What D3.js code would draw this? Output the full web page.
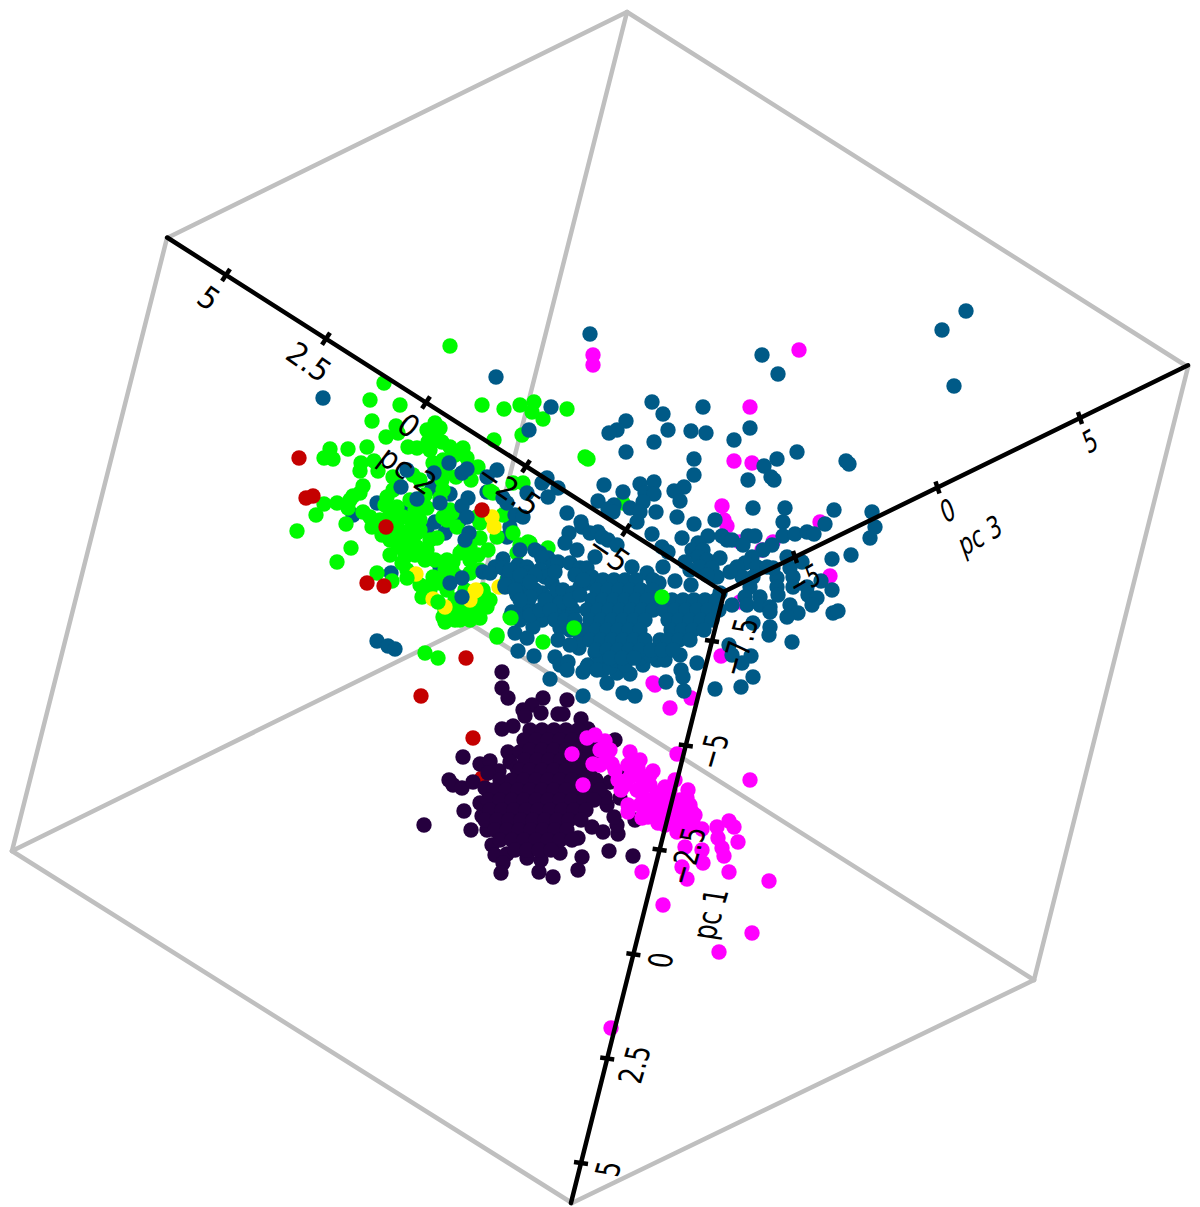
<!DOCTYPE html>
<html>
<head>
<meta charset="utf-8">
<script src="https://cdn.jsdelivr.net/npm/d3@7"></script>
<style>
	html, body { margin: 0; padding: 0; background: #fff; }
	svg { display: block; }
	text { font-family: "DejaVu Sans", sans-serif; fill: #000; }
</style>
</head>
<body>
<script>
var yellow = [[49.2,51.7],[49.4,52.7],[41.6,57.4],[47.6,59.0],[49.9,58.7],[43.3,59.9],[44.5,60.7],[47.0,60.0],[47.5,59.1]];

var tealBack = [[35.3,51.5],[39.1,57.3],[40.8,51.5],[40.3,51.0],[43.5,52.2],[42.7,52.8],[43.2,48.8],[45.0,49.4],[37.7,50.3],[48.7,49.2],[44.0,56.7],[51.0,52.7],[50.7,53.7],[46.0,52.0],[44.5,53.3]];

var green = [[45.0,34.6],[38.4,38.3],[37.0,40.0],[40.0,40.5],[48.2,40.5],[50.4,40.9],[52.0,40.5],[53.4,40.2],[53.2,41.2],[54.3,41.9],[56.7,40.9],[37.2,42.1],[52.2,43.5],[49.4,44.0],[39.6,42.6],[39.8,43.3],[38.6,43.7],[43.5,42.3],[44.0,42.8],[42.7,43.0],[43.8,44.0],[43.0,43.8],[41.7,44.8],[40.8,44.7],[45.0,44.7],[44.2,44.2],[42.8,44.2],[46.3,44.8],[46.7,45.8],[36.7,44.7],[34.8,44.9],[33.0,44.9],[32.4,45.8],[33.3,45.9],[36.1,46.3],[36.0,47.1],[37.4,46.1],[37.8,47.1],[43.3,46.3],[44.3,46.0],[47.8,46.7],[45.6,47.7],[47.1,48.0],[41.3,47.5],[42.0,48.0],[44.2,48.0],[44.3,49.0],[39.3,47.7],[39.8,48.5],[49.0,49.1],[49.3,49.3],[51.3,48.3],[52.3,48.3],[36.3,48.6],[35.3,49.6],[36.0,49.3],[33.7,50.3],[32.4,50.4],[31.6,51.5],[34.8,50.8],[34.6,52.4],[29.7,53.1],[35.1,54.8],[33.7,56.2],[37.7,57.3],[39.2,58.1],[36.3,51.2],[37.0,51.7],[37.2,52.7],[38.0,52.0],[38.2,53.5],[39.0,54.0],[38.7,49.7],[39.3,49.0],[38.5,50.5],[39.7,50.7],[40.3,51.7],[39.7,52.3],[40.3,53.3],[39.8,54.7],[41.0,54.3],[40.5,55.7],[41.3,52.3],[41.7,53.3],[40.2,56.3],[40.7,57.0],[42.7,50.8],[42.0,52.0],[43.0,54.0],[42.7,55.0],[41.7,54.7],[44.3,51.7],[45.2,51.3],[44.7,52.0],[45.7,52.7],[43.7,53.8],[44.0,49.8],[45.0,51.0],[47.7,51.7],[48.0,52.3],[48.0,53.8],[48.8,55.0],[47.8,55.5],[47.0,54.7],[46.0,55.3],[45.3,56.2],[44.7,56.0],[45.2,57.0],[46.3,55.0],[43.3,57.7],[42.7,58.7],[44.0,58.3],[44.7,59.0],[42.2,59.7],[47.0,57.3],[48.3,59.0],[47.3,60.7],[48.7,60.7],[45.7,61.0],[46.7,60.7],[47.7,59.7],[51.3,53.3],[50.3,51.5],[49.7,53.7],[53.0,54.3],[54.8,54.8],[51.7,55.3],[50.7,58.0],[44.3,61.7],[51.0,61.7],[42.5,65.3],[43.8,65.8],[44.5,62.2],[45.5,62.0],[47.0,61.0],[48.0,61.8],[49.7,63.5],[48.4,59.5],[52.0,54.5],[52.8,54.2],[58.5,45.7],[58.8,45.9],[62.3,50.3],
[39.0,51.5],[39.5,53.0],[39.0,55.5],[41.0,53.0],[41.5,55.5],[40.5,55.0],[40.0,54.0],[42.0,53.0],[42.5,56.0],[43.5,56.0],[44.5,57.0],[45.5,57.5],[47.0,56.0],[48.0,57.0],[46.5,59.0],[45.5,60.0],[46.0,62.0],[47.0,62.0],[44.5,61.0],[48.0,60.5],[49.0,60.0],[43.0,59.0],[42.0,58.5],[35.0,50.0],[41.0,50.0],[41.5,51.0],[42.5,49.5],[44.5,47.0],[43.0,45.0],[45.5,45.5]];

var red = [[29.9,45.8],[30.6,49.8],[31.3,49.6],[38.6,52.7],[36.7,58.3],[38.4,58.6],[48.2,51.0],[42.1,69.6],[46.6,65.8],[47.3,73.8],[48.2,77.8]];

var purple = [[50.2,67.2],[50.2,68.8],[50.8,69.8],[54.3,69.8],[53.2,70.5],[52.3,71.0],[52.5,71.6],[54.1,71.3],[56.7,70.0],[55.8,71.4],[56.3,71.4],[58.1,71.9],[58.8,72.9],[51.3,72.6],[50.2,72.9],[46.3,75.7],[48.0,76.4],[49.0,76.1],[49.9,77.1],[48.8,77.3],[50.8,75.2],[52.0,75.2],[51.0,76.2],[51.7,76.8],[44.9,78.0],[45.3,78.5],[46.2,78.8],[47.3,78.2],[48.5,78.8],[46.4,81.1],[48.2,81.6],[48.0,80.3],[47.1,83.0],[42.4,82.5],[48.7,83.0],[49.2,84.5],[49.5,85.5],[50.7,85.4],[50.3,86.3],[50.1,87.3],[52.7,85.8],[54.1,86.0],[53.9,87.2],[55.3,87.7],[56.0,85.3],[58.2,85.7],[57.8,87.0],[60.9,85.1],[63.3,85.6],[61.8,83.4],[60.3,83.2],[61.7,82.5],[61.4,81.7],[60.7,80.5],[60.5,79.7],[61.5,74.0],[62.0,77.3],[61.0,78.2],[62.0,79.8],[63.5,82.0],[59.2,82.7],[57.8,83.8],
[53.0,73.0],[54.2,73.0],[55.4,73.0],[56.6,73.0],[57.8,73.0],
[52.4,74.0],[53.6,74.0],[54.8,74.0],[56.0,74.0],[57.2,74.0],[58.4,74.0],[59.6,74.0],
[53.0,75.0],[54.2,75.0],[55.4,75.0],[56.6,75.0],[57.8,75.0],[59.0,75.0],
[52.5,76.0],[53.7,76.0],[54.9,76.0],[56.1,76.0],[57.3,76.0],[58.5,76.0],[59.7,76.0],
[52.0,77.0],[53.0,77.0],[54.2,77.0],[55.4,77.0],[56.6,77.0],[57.8,77.0],[59.0,77.0],
[50.0,78.0],[51.2,78.0],[52.4,78.0],[53.6,78.0],[54.8,78.0],[56.0,78.0],[57.2,78.0],[58.4,78.0],[59.6,78.0],
[49.4,79.0],[50.6,79.0],[51.8,79.0],[53.0,79.0],[54.2,79.0],[55.4,79.0],[56.6,79.0],[57.8,79.0],[59.0,79.0],[60.0,79.0],
[48.8,80.0],[50.0,80.0],[51.2,80.0],[52.4,80.0],[53.6,80.0],[54.8,80.0],[56.0,80.0],[57.2,80.0],[58.4,80.0],[59.4,80.0],
[49.0,81.0],[50.2,81.0],[51.4,81.0],[52.6,81.0],[53.8,81.0],[55.0,81.0],[56.2,81.0],[57.4,81.0],[58.6,81.0],
[48.5,82.0],[49.7,82.0],[50.9,82.0],[52.1,82.0],[53.3,82.0],[54.5,82.0],[55.7,82.0],[56.9,82.0],[58.1,82.0],
[49.5,83.0],[50.7,83.0],[51.9,83.0],[53.1,83.0],[54.3,83.0],[55.5,83.0],[56.7,83.0],
[50.0,84.0],[51.2,84.0],[52.4,84.0],[53.6,84.0],[54.8,84.0],[56.0,84.0],[57.2,84.0],
[51.5,85.0],[52.7,85.0],[53.9,85.0],[55.1,85.0]];

var magenta = [[58.7,73.8],[59.5,73.5],[60.5,74.1],[59.3,76.4],[60.0,76.5],[60.7,75.7],[61.2,76.4],[57.2,75.4],[58.3,78.5],[63.0,75.2],[65.3,77.1],[63.7,76.8],[62.8,76.5],[61.8,78.0],[62.1,79.0],[63.0,77.7],[64.3,78.2],[62.8,80.5],[62.8,81.2],[64.2,81.8],[63.7,79.0],[64.3,79.7],[65.7,79.3],[66.7,80.0],[65.2,80.7],[65.8,82.3],[66.3,81.3],[64.2,87.2],[67.7,75.4],[75.0,78.0],[63.8,76.8],[64.5,78.0],[66.5,78.7],[68.8,79.0],[68.7,79.8],[64.8,81.7],[67.0,80.7],[66.7,79.5],[65.3,80.8],[69.2,81.2],[68.3,82.0],[69.3,82.3],[70.2,82.9],[67.7,83.2],[68.5,84.7],[70.2,85.0],[70.3,86.3],[68.2,86.7],[68.7,87.9],[71.7,82.7],[72.9,82.1],[73.4,82.7],[73.8,84.2],[71.8,83.8],[72.2,84.8],[72.4,85.6],[72.9,87.2],[76.9,88.1],[66.3,90.5],[75.2,93.3],[71.9,95.2],[61.1,102.8],[59.3,35.5],[59.3,36.5],[79.9,35.0],[75.0,40.7],[73.4,46.1],[75.2,46.3],[72.2,50.6],[72.4,52.0],[72.7,52.6],[74.0,54.2],[77.3,54.2],[76.2,55.0],[82.0,52.2],[83.0,57.6],[74.0,60.2],[65.5,68.5],[65.3,68.3],[69.1,69.8],[67.0,70.8],[72.1,65.6],
[65.0,78.5],[66.0,80.0],[67.0,79.0],[67.5,78.0],[68.0,80.0],[66.0,81.5],[67.0,81.5],[68.0,81.0],[69.0,80.5],[65.0,80.0],[64.0,80.5],[63.5,77.5],[65.0,77.5],[66.5,82.5],[67.5,82.5],[68.5,83.0],[69.5,81.5],[61.0,75.0],[60.0,75.0],[61.5,77.0],[62.5,78.5],[64.0,76.0]];

var teal = [[96.6,31.1],[94.2,33.0],[95.4,38.6],[59.0,33.4],[76.2,35.5],[77.8,37.4],[49.6,37.7],[32.3,39.8],[65.2,40.2],[66.3,41.4],[70.3,40.7],[62.6,42.1],[61.7,43.0],[60.9,43.3],[66.8,43.0],[69.1,43.1],[70.6,43.3],[75.0,42.8],[73.4,44.0],[65.4,44.2],[62.6,45.2],[69.4,45.9],[69.4,47.5],[77.7,45.9],[79.7,45.2],[76.4,46.6],[77.1,47.7],[77.4,48.0],[74.8,48.0],[84.6,46.1],[84.9,46.4],[60.4,48.5],[64.0,48.4],[65.4,48.2],[68.4,48.7],[67.4,49.1],[62.3,49.2],[64.5,49.3],[65.4,49.4],[64.3,50.2],[68.0,50.1],[59.8,50.1],[61.4,50.5],[60.8,50.9],[61.3,51.2],[63.0,50.8],[64.0,51.2],[65.6,51.2],[56.7,51.3],[67.7,51.7],[63.7,52.2],[69.4,52.4],[71.5,52.0],[75.3,50.8],[78.5,50.8],[83.4,51.0],[87.2,51.2],[78.3,52.2],[82.5,52.4],[87.5,52.7],[87.0,53.8],[58.1,52.2],[58.2,52.7],[56.9,53.3],[56.5,54.3],[59.0,53.3],[59.8,53.2],[60.2,53.7],[60.8,54.0],[61.7,54.5],[65.2,53.4],[68.2,53.8],[70.8,53.6],[72.2,53.6],[72.7,54.0],[73.2,54.0],[74.8,53.6],[75.5,53.6],[74.3,54.5],[78.3,53.6],[79.5,53.4],[80.7,53.2],[81.4,53.4],[77.2,54.5],[76.3,55.0],[85.1,55.5],[83.2,55.9],[78.7,55.7],[80.2,56.2],[79.0,56.8],[79.3,57.7],[79.3,58.7],[77.7,57.8],[77.7,58.7],[82.1,58.1],[83.2,59.0],[80.7,58.7],[80.8,59.5],[81.7,59.8],[81.2,60.5],[57.7,55.0],[59.5,55.7],[63.2,56.7],[64.7,57.3],[65.3,58.0],[65.9,58.3],[66.3,56.7],[67.5,58.1],[69.1,58.5],[66.2,54.7],[66.8,55.2],[69.8,54.3],[69.2,55.0],[70.3,55.0],[69.8,55.7],[68.5,56.2],[70.7,56.0],[72.0,55.8],[69.0,57.0],[70.0,56.7],[71.2,56.8],[71.7,57.7],[70.7,57.5],[75.2,55.7],[74.5,56.3],[73.7,56.7],[75.7,56.7],[76.7,56.7],[74.2,57.7],[75.3,57.7],[73.0,57.2],[75.0,58.7],[77.3,56.8],[72.0,59.3],[73.2,60.5],[74.5,59.7],[76.0,59.7],[74.7,60.5],[76.0,60.5],[77.0,60.7],[77.0,61.2],[77.8,59.5],[79.0,60.5],[79.8,61.3],[78.7,61.7],[83.3,61.3],[83.8,61.1],[75.3,62.3],[77.0,62.7],[76.9,63.5],[79.2,64.2],[72.9,64.5],[75.1,65.6],[74.2,66.3],[75.3,67.7],[74.1,68.7],[71.5,68.9],
[44.9,46.3],[46.2,47.3],[46.7,46.9],[43.4,47.3],[40.7,47.0],[40.1,48.7],[46.8,49.8],[41.7,49.9],[44.0,50.3],[46.2,50.6],[46.7,51.7],[46.9,53.3],[46.5,54.0],[49.7,47.0],[48.7,47.7],[50.3,49.8],[50.7,50.3],[52.7,49.3],[54.2,48.3],[54.7,47.8],[55.8,48.8],[54.8,49.7],[51.5,51.5],[52.3,51.7],[46.2,57.8],[46.2,59.7],[45.0,58.3],[37.7,64.1],[38.8,64.6],[39.5,64.9],[52.9,43.0],[55.1,40.7],
[52.0,55.0],[53.5,55.0],[54.0,55.3],[54.8,55.8],[50.3,55.9],[49.5,56.7],[48.3,57.2],[49.0,57.3],[50.3,56.8],[51.8,56.5],[52.7,56.7],[51.3,57.7],[52.0,58.2],[52.7,57.3],[54.2,55.8],[55.3,56.5],[55.8,56.2],[57.0,56.3],[58.0,56.8],[58.7,56.8],[59.2,57.7],[58.7,58.3],[58.0,58.7],[54.0,57.0],[54.5,57.7],[54.2,59.3],[55.0,59.8],[54.7,61.0],[54.2,62.0],[53.3,62.7],[52.5,59.0],[51.7,59.5],[52.8,60.3],[52.2,61.0],[51.2,61.2],[52.0,62.0],[51.5,63.3],[52.7,63.8],[51.8,65.1],[53.4,65.6],[56.0,62.8],[55.8,64.0],[56.8,62.5],[56.3,61.3],[57.3,61.0],[57.0,60.3],[57.9,64.8],[55.5,65.7],[56.0,66.5],[56.8,66.2],[56.7,67.0],[55.0,67.9],[58.3,69.6],[60.7,68.3],[58.3,67.2],[58.8,66.5],[59.5,65.2],[60.8,64.7],[60.0,66.2],[60.3,67.0],[61.7,67.3],[63.0,67.4],[62.3,69.3],[63.5,69.6],[64.3,66.5],[65.7,66.0],[66.5,66.0],[68.1,67.0],[68.3,67.7],[66.6,68.2],[68.4,69.1],[73.2,65.5],[69.7,66.3],[53.5,57.5],[50.5,58.7],[50.8,57.8],[53.5,59.0],[55.2,58.3],[55.7,59.0],[56.3,59.0],[57.3,59.3],[56.0,60.3],[55.5,61.5],[53.0,61.0],
[51.0,57.0],[52.0,57.5],[53.0,58.2],[50.5,58.5],[51.5,59.0],[53.0,59.7],[52.0,60.0],[53.0,61.5],[54.0,61.0],[54.5,60.0],[55.5,57.2],[57.5,57.5],[58.3,58.0],[57.0,60.0],[58.0,59.5],[55.0,61.0],[55.5,62.0],[56.5,62.0],[57.5,62.0],[57.0,63.0],[58.0,64.0],[57.0,64.5],[58.7,66.7],[59.7,67.0],[61.0,66.7],[61.5,66.0],[62.5,66.5],[64.0,65.8],[65.0,65.5],[68.0,65.5],
[60.3,58.0],[61.4,58.0],[62.5,58.0],[63.6,58.0],
[59.7,59.0],[60.8,59.0],[61.9,59.0],[63.0,59.0],[64.1,59.0],[65.2,59.0],
[59.2,60.0],[60.3,60.0],[61.4,60.0],[62.5,60.0],[63.6,60.0],[64.7,60.0],[65.8,60.0],[67.2,60.0],[68.3,60.0],[69.4,60.0],[70.5,60.0],[71.6,60.0],
[58.7,61.0],[59.8,61.0],[60.9,61.0],[62.0,61.0],[63.1,61.0],[64.2,61.0],[65.3,61.0],[66.4,61.0],[67.5,61.0],[68.6,61.0],[69.7,61.0],[70.8,61.0],[71.9,61.0],
[59.0,62.0],[60.1,62.0],[61.2,62.0],[62.3,62.0],[63.4,62.0],[64.5,62.0],[66.8,62.0],[67.9,62.0],[69.0,62.0],[70.1,62.0],[71.2,62.0],
[58.5,63.0],[59.6,63.0],[60.7,63.0],[61.8,63.0],[62.9,63.0],[64.0,63.0],[67.1,63.0],[68.2,63.0],[69.3,63.0],[70.4,63.0],
[59.0,64.0],[60.1,64.0],[61.2,64.0],[62.3,64.0],[63.4,64.0],[64.5,64.0],[66.0,64.0],[66.8,64.0],[67.9,64.0],[69.0,64.0],
[59.6,65.0],[60.7,65.0],[61.8,65.0],[62.9,65.0],[64.0,65.0],[65.1,65.0],[66.2,65.0],[67.3,65.0],
[61.0,65.8],[62.2,65.8],[63.4,65.8]];

var greenFront = [[66.2,59.7],[57.4,62.8],[54.3,64.2],[51.1,61.8],[49.7,63.7],[40.7,57.8],[43.8,60.2]];

// box outline, corners in view units
var boxCorners = [[62.7,1.2],[16.7,23.8],[118.8,36.7],[1.2,85.1],[47.2,62.5],[103.4,98.0],[57.2,120.3]];
var boxEdges = [[0,1],[0,2],[0,4],[1,3],[3,6],[3,4],[6,5],[5,2],[5,4]];

var pc1Ticks = [-7.5, -5, -2.5, 0, 2.5, 5];
var pc2Ticks = [5, 2.5, 0, -2.5, -5];
var pc3Ticks = [-5, 0, 5];
var pc1Labels = ["\u22127.5", "\u22125", "\u22122.5", "0", "2.5", "5"];
var pc2Labels = ["5", "2.5", "0", "\u22122.5", "\u22125"];
var pc3Labels = ["\u22125", "0", "5"];

var w = 1200;
var h = 1207;

var xScale = d3.scaleLinear().domain([0, 120]).range([0, w]);
var yScale = d3.scaleLinear().domain([0, 120.7]).range([0, h]);

// each axis runs through the picture on its own pair of scales
var axes = [
	{
		name: "pc 1", ticks: pc1Ticks, labels: pc1Labels, extent: [-8.67, 5.96],
		x: d3.scaleLinear().domain([-7.5, 5]).range([71.2, 58.1]),
		y: d3.scaleLinear().domain([-7.5, 5]).range([64.1, 116.3]),
		tick: [7, 1], offset: [27, 6], fontSize: 33, title: [71.0, 91.4],
		matrix: [0.28 * 0.74, -0.96 * 0.74, 0.98, 0.15]
	},
	{
		name: "pc 2", ticks: pc2Ticks, labels: pc2Labels, extent: [-7.43, 6.47],
		x: d3.scaleLinear().domain([-5, 5]).range([62.6, 22.6]),
		y: d3.scaleLinear().domain([-5, 5]).range([53.0, 27.5]),
		tick: [4, -6], offset: [-17, 23], fontSize: 31, title: [40.8, 47.0],
		matrix: [0.82 * 0.92, 0.57 * 0.92, -0.6, 0.8]
	},
	{
		name: "pc 3", ticks: pc3Ticks, labels: pc3Labels, extent: [-7.53, 8.79],
		x: d3.scaleLinear().domain([-5, 5]).range([79.5, 108.0]),
		y: d3.scaleLinear().domain([-5, 5]).range([55.7, 41.8]),
		tick: [2, 6], offset: [10, 23], fontSize: 30, title: [98.0, 53.5],
		matrix: [0.87 * 0.72, -0.5 * 0.72, 0.34, 0.94]
	}
];

var svg = d3.select("body")
			.append("svg")
			.attr("width", w)
			.attr("height", h);

svg.append("g")
	.selectAll("line")
	.data(boxEdges)
	.enter()
	.append("line")
	.attr("x1", function(d) { return xScale(boxCorners[d[0]][0]); })
	.attr("y1", function(d) { return yScale(boxCorners[d[0]][1]); })
	.attr("x2", function(d) { return xScale(boxCorners[d[1]][0]); })
	.attr("y2", function(d) { return yScale(boxCorners[d[1]][1]); })
	.attr("stroke", "#bfbfbf")
	.attr("stroke-width", 4.5)
	.attr("stroke-linecap", "round");

// rough depth order, back to front
var layers = [
	{ points: tealBack, color: "#005a87" },
	{ points: green, color: "#00fa00" },
	{ points: yellow, color: "#fff200" },
	{ points: red, color: "#c40000" },
	{ points: purple, color: "#25003e" },
	{ points: magenta, color: "#ff00ff" },
	{ points: teal, color: "#005a87" },
	{ points: greenFront, color: "#00fa00" }
];

layers.forEach(function(layer) {
	svg.append("g")
		.attr("fill", layer.color)
		.selectAll("circle")
		.data(layer.points)
		.enter()
		.append("circle")
		.attr("cx", function(d) { return xScale(d[0]); })
		.attr("cy", function(d) { return yScale(d[1]); })
		.attr("r", 7.7);
});

axes.forEach(function(axis) {
	var g = svg.append("g");

	g.append("line")
		.attr("x1", xScale(axis.x(axis.extent[0])))
		.attr("y1", yScale(axis.y(axis.extent[0])))
		.attr("x2", xScale(axis.x(axis.extent[1])))
		.attr("y2", yScale(axis.y(axis.extent[1])))
		.attr("stroke", "#000")
		.attr("stroke-width", 4.5)
		.attr("stroke-linecap", "round");

	g.selectAll("line.tick")
		.data(axis.ticks)
		.enter()
		.append("line")
		.attr("class", "tick")
		.attr("x1", function(d) { return xScale(axis.x(d)) - axis.tick[0]; })
		.attr("y1", function(d) { return yScale(axis.y(d)) - axis.tick[1]; })
		.attr("x2", function(d) { return xScale(axis.x(d)) + axis.tick[0]; })
		.attr("y2", function(d) { return yScale(axis.y(d)) + axis.tick[1]; })
		.attr("stroke", "#000")
		.attr("stroke-width", 4.5);

	var m = axis.matrix.join(" ");

	g.selectAll("text.ticklabel")
		.data(axis.ticks)
		.enter()
		.append("text")
		.attr("class", "ticklabel")
		.attr("text-anchor", "middle")
		.attr("font-size", axis.fontSize)
		.attr("dy", "0.36em")
		.attr("transform", function(d) {
			var px = xScale(axis.x(d)) + axis.offset[0];
			var py = yScale(axis.y(d)) + axis.offset[1];
			return "matrix(" + m + " " + px + " " + py + ")";
		})
		.text(function(d, i) { return axis.labels[i]; });

	g.append("text")
		.attr("text-anchor", "middle")
		.attr("font-size", axis.fontSize)
		.attr("dy", "0.36em")
		.attr("transform", "matrix(" + m + " " + xScale(axis.title[0]) + " " + yScale(axis.title[1]) + ")")
		.text(axis.name);
});
</script>
</body>
</html>
